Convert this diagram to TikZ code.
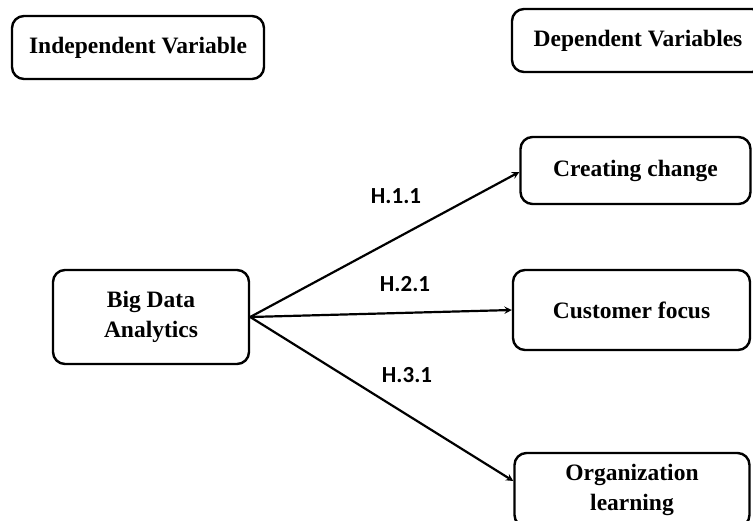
\documentclass[tikz,border=0pt]{standalone}
\usepackage{fontspec}
\setmainfont{Liberation Serif}
\newfontfamily\hypfont{Carlito}
\usetikzlibrary{positioning}

\begin{document}
\begin{tikzpicture} [x=1pt, y=-1pt,
            var/.style = {draw, line width=2.4pt, rounded corners=12pt,
                align=center, font=\fontsize{23.5}{30}\selectfont\bfseries},
            hyp/.style = {font=\hypfont\fontsize{23}{26}\selectfont\bfseries}]

        \useasboundingbox (0,0) rectangle (753,520);

        % Independent variable heading
        \node (iv) [var, minimum width=252pt, minimum height=63pt]
            at (138,47.5) {Independent Variable};

        % Dependent variables heading
        \node (dv) [var, minimum width=252pt, minimum height=63pt]
            at (638,40.5) {Dependent Variables};

        % Big Data Analytics
        \node (bda) [var, minimum width=196pt, minimum height=94pt]
            at (151,317) {Big Data\\Analytics};

        % Creating change
        \node (cc) [var, minimum width=230pt, minimum height=67pt]
            at (635.5,170.5) {Creating change};

        % Customer focus
        \node (cf) [var, minimum width=237pt, minimum height=80pt]
            at (631.5,310) {Customer focus};

        % Organization learning
        \node (ol) [var, minimum width=235pt, minimum height=74pt]
            at (632,490) {Organization\\learning};

        % Hypotheses
        \node (h1) [hyp] at (396,196) {H.1.1};
        \node (h2) [hyp] at (405,284) {H.2.1};
        \node (h3) [hyp] at (407,375) {H.3.1};

        % Arrows
        \path [-stealth, line width=2.2pt]
            (bda.east) edge ([yshift=-1.5pt]cc.west)
            (bda.east) edge (cf.west)
            (bda.east) edge ([yshift=9pt]ol.west)
            ;
        \end{tikzpicture}
\end{document}
